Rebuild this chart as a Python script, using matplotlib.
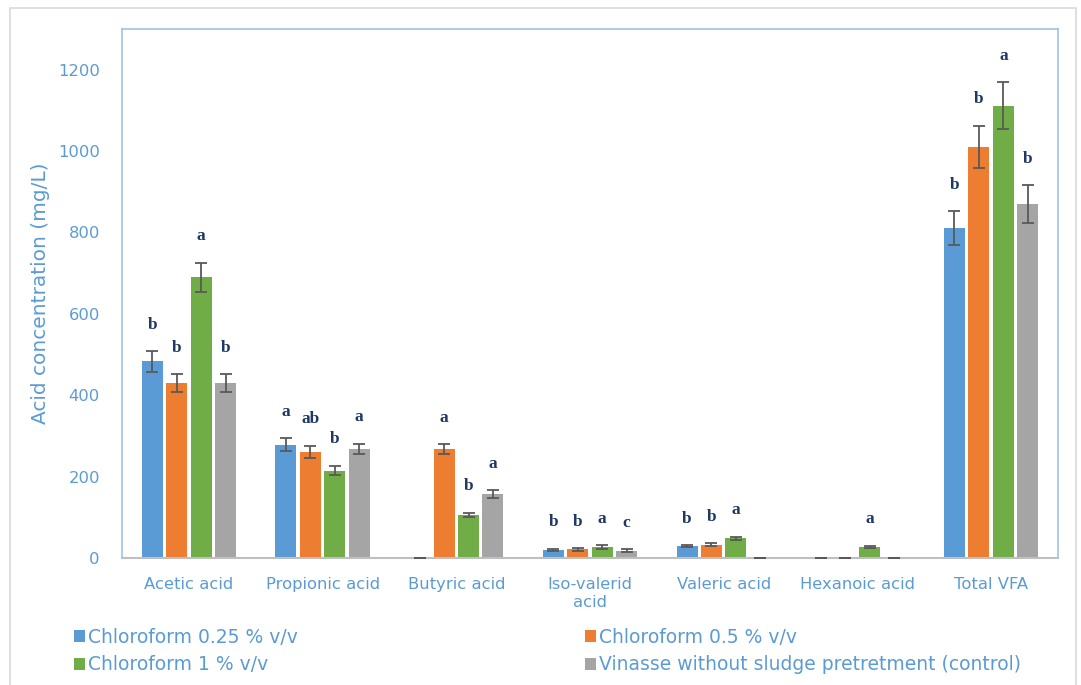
import matplotlib
matplotlib.use("Agg")
import matplotlib.pyplot as plt
import numpy as np
from matplotlib.patches import Rectangle

categories = ["Acetic acid", "Propionic acid", "Butyric acid", "Iso-valerid\nacid",
              "Valeric acid", "Hexanoic acid", "Total VFA"]
series_names = ["Chloroform 0.25 % v/v", "Chloroform 0.5 % v/v",
                "Chloroform 1 % v/v", "Vinasse without sludge pretretment (control)"]
colors = ["#5B9BD5", "#ED7D31", "#70AD47", "#A5A5A5"]

chl025 = [483, 278, 0, 20, 29, 0, 811]
chl05 = [430, 261, 268, 21, 33, 0, 1010]
chl1 = [690, 215, 106, 27, 48, 27, 1112]
control = [430, 268, 157, 18, 0, 0, 870]

err025 = [25, 16, 0, 3, 3, 0, 42]
err05 = [22, 15, 12, 3, 3, 0, 52]
err1 = [36, 12, 5, 4, 4, 3, 57]
errctl = [22, 13, 10, 3, 0, 0, 46]

let025 = ["b", "a", "", "b", "b", "", "b"]
let05 = ["b", "ab", "a", "b", "b", "", "b"]
let1 = ["a", "b", "b", "a", "a", "a", "a"]
letctl = ["b", "a", "a", "c", "", "", "b"]

values = [chl025, chl05, chl1, control]
errors = [err025, err05, err1, errctl]
letters = [let025, let05, let1, letctl]

plt.rcParams['font.family'] = ['DejaVu Sans']

fig = plt.figure(figsize=(10.81, 6.85), dpi=100)
ax = fig.add_axes([122/1081, 1-558/685, (1058-122)/1081, (558-29)/685])

x = np.arange(len(categories))
step = 0.183
width = 0.157
offsets = (np.arange(4) - 1.5) * step
for i in range(4):
    xs = x + offsets[i]
    ax.bar(xs, values[i], width=width, color=colors[i], label=series_names[i], zorder=2)
    ax.errorbar(xs, values[i], yerr=errors[i], fmt='none', ecolor='#595959',
                elinewidth=1.3, capsize=4, capthick=1.3, zorder=3)
    for xi, v, e, t in zip(xs, values[i], errors[i], letters[i]):
        if t:
            ax.annotate(t, (xi, v + e), xytext=(0, 19), textcoords='offset points',
                        ha='center', va='center', fontsize=12.5, fontweight='bold',
                        color='#1F3864', family='Liberation Serif')

ax.set_xlim(-0.5, len(categories) - 0.5)
ax.set_ylim(0, 1300)
ax.set_yticks(np.arange(0, 1201, 200))
ax.set_xticks(x)
ax.set_xticklabels(categories)
ax.tick_params(axis='both', length=0, colors='#5B9BD5', labelsize=11.8)
ax.tick_params(axis='x', pad=14)
ax.tick_params(axis='y', pad=16)
ax.set_ylabel("Acid concentration (mg/L)", color='#5B9BD5', fontsize=14.5, labelpad=6)

for s in ['top', 'left', 'right']:
    ax.spines[s].set_color('#9DC3E6')
    ax.spines[s].set_linewidth(1.2)
ax.spines['bottom'].set_color('#BFBFBF')
ax.spines['bottom'].set_linewidth(1.5)

handles, labels = ax.get_legend_handles_labels()
order = [0, 2, 1, 3]
leg = fig.legend([handles[k] for k in order], [labels[k] for k in order],
                 loc='upper left', bbox_to_anchor=(70/1081, 1-624/685), ncol=2,
                 frameon=False, fontsize=13.5, handlelength=0.6, handleheight=0.6,
                 handletextpad=0.15, columnspacing=15.3, labelspacing=0.45,
                 borderaxespad=0, borderpad=0.2)
for t in leg.get_texts():
    t.set_color('#5B9BD5')

fig.patches.append(Rectangle((10/1081, -0.05), (1076-10)/1081, 1.05 - 8/685,
                             transform=fig.transFigure, fill=False,
                             edgecolor='#D9D9D9', linewidth=1.2))

fig.savefig("out.png", dpi=100)
